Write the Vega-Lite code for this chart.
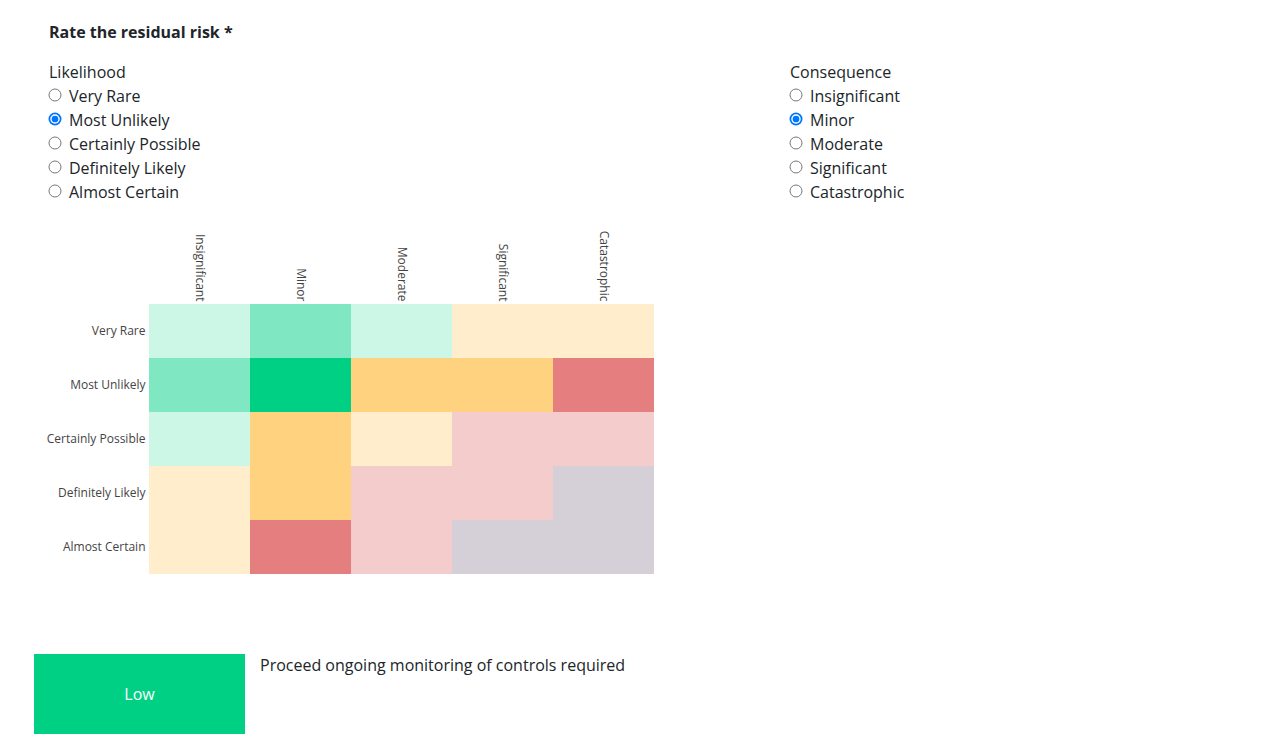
{
  "$schema": "https://vega.github.io/schema/vega-lite/v6.json",
  "padding": {"left": 34, "top": 25, "right": 10, "bottom": 0},
  "background": "white",
  "config": {
    "font": "Open Sans",
    "view": {"stroke": null},
    "axis": {"labelFont": "Open Sans", "labelFontSize": 12, "labelColor": "#444444", "ticks": false, "domain": false, "grid": false, "title": null}
  },
  "title": {"text": "Rate the residual risk *", "anchor": "start", "fontSize": 16, "fontWeight": "bold", "color": "#212529", "dx": 15, "offset": 18, "frame": "bounds"},
  "datasets": {
    "options": [
      {"group": "Likelihood", "line": 0, "kind": "header", "label": "Likelihood", "checked": false},
      {"group": "Likelihood", "line": 1, "kind": "option", "label": "Very Rare", "checked": false},
      {"group": "Likelihood", "line": 2, "kind": "option", "label": "Most Unlikely", "checked": true},
      {"group": "Likelihood", "line": 3, "kind": "option", "label": "Certainly Possible", "checked": false},
      {"group": "Likelihood", "line": 4, "kind": "option", "label": "Definitely Likely", "checked": false},
      {"group": "Likelihood", "line": 5, "kind": "option", "label": "Almost Certain", "checked": false},
      {"group": "Consequence", "line": 0, "kind": "header", "label": "Consequence", "checked": false},
      {"group": "Consequence", "line": 1, "kind": "option", "label": "Insignificant", "checked": false},
      {"group": "Consequence", "line": 2, "kind": "option", "label": "Minor", "checked": true},
      {"group": "Consequence", "line": 3, "kind": "option", "label": "Moderate", "checked": false},
      {"group": "Consequence", "line": 4, "kind": "option", "label": "Significant", "checked": false},
      {"group": "Consequence", "line": 5, "kind": "option", "label": "Catastrophic", "checked": false}
    ],
    "matrix": [
      {"likelihood": "Very Rare", "consequence": "Insignificant", "risk": "Low", "emphasis": "other"},
      {"likelihood": "Very Rare", "consequence": "Minor", "risk": "Low", "emphasis": "related"},
      {"likelihood": "Very Rare", "consequence": "Moderate", "risk": "Low", "emphasis": "other"},
      {"likelihood": "Very Rare", "consequence": "Significant", "risk": "Medium", "emphasis": "other"},
      {"likelihood": "Very Rare", "consequence": "Catastrophic", "risk": "Medium", "emphasis": "other"},
      {"likelihood": "Most Unlikely", "consequence": "Insignificant", "risk": "Low", "emphasis": "related"},
      {"likelihood": "Most Unlikely", "consequence": "Minor", "risk": "Low", "emphasis": "selected"},
      {"likelihood": "Most Unlikely", "consequence": "Moderate", "risk": "Medium", "emphasis": "related"},
      {"likelihood": "Most Unlikely", "consequence": "Significant", "risk": "Medium", "emphasis": "related"},
      {"likelihood": "Most Unlikely", "consequence": "Catastrophic", "risk": "High", "emphasis": "related"},
      {"likelihood": "Certainly Possible", "consequence": "Insignificant", "risk": "Low", "emphasis": "other"},
      {"likelihood": "Certainly Possible", "consequence": "Minor", "risk": "Medium", "emphasis": "related"},
      {"likelihood": "Certainly Possible", "consequence": "Moderate", "risk": "Medium", "emphasis": "other"},
      {"likelihood": "Certainly Possible", "consequence": "Significant", "risk": "High", "emphasis": "other"},
      {"likelihood": "Certainly Possible", "consequence": "Catastrophic", "risk": "High", "emphasis": "other"},
      {"likelihood": "Definitely Likely", "consequence": "Insignificant", "risk": "Medium", "emphasis": "other"},
      {"likelihood": "Definitely Likely", "consequence": "Minor", "risk": "Medium", "emphasis": "related"},
      {"likelihood": "Definitely Likely", "consequence": "Moderate", "risk": "High", "emphasis": "other"},
      {"likelihood": "Definitely Likely", "consequence": "Significant", "risk": "High", "emphasis": "other"},
      {"likelihood": "Definitely Likely", "consequence": "Catastrophic", "risk": "Extreme", "emphasis": "other"},
      {"likelihood": "Almost Certain", "consequence": "Insignificant", "risk": "Medium", "emphasis": "other"},
      {"likelihood": "Almost Certain", "consequence": "Minor", "risk": "High", "emphasis": "related"},
      {"likelihood": "Almost Certain", "consequence": "Moderate", "risk": "High", "emphasis": "other"},
      {"likelihood": "Almost Certain", "consequence": "Significant", "risk": "Extreme", "emphasis": "other"},
      {"likelihood": "Almost Certain", "consequence": "Catastrophic", "risk": "Extreme", "emphasis": "other"}
    ],
    "outcome": [
      {"part": "level", "text": "Low", "risk": "Low"},
      {"part": "note", "text": "Proceed ongoing monitoring of controls required", "risk": "Low"}
    ]
  },
  "spacing": 80,
  "bounds": "flush",
  "vconcat": [
    {
      "data": {"name": "options"},
      "width": 783,
      "height": 165,
      "encoding": {
        "x": {"field": "group", "type": "nominal", "scale": {"type": "point", "domain": ["Likelihood", "Consequence"], "padding": 0.02834}, "axis": null},
        "y": {"field": "line", "type": "ordinal", "scale": {"type": "band", "paddingInner": 0, "paddingOuter": 0.4375, "align": 0}, "axis": null}
      },
      "layer": [
        {
          "transform": [{"filter": "datum.kind === 'header'"}],
          "mark": {"type": "text", "align": "left", "baseline": "middle", "dx": -6, "dy": 2, "fontSize": 16, "color": "#212529"},
          "encoding": {"text": {"field": "label"}}
        },
        {
          "transform": [{"filter": "datum.kind === 'option'"}],
          "mark": {"type": "text", "align": "left", "baseline": "middle", "dx": 14, "dy": 2, "fontSize": 16, "color": "#212529"},
          "encoding": {"text": {"field": "label"}}
        },
        {
          "transform": [{"filter": "datum.kind === 'option' && !datum.checked"}],
          "mark": {"type": "point", "shape": "circle", "filled": true, "fill": "white", "stroke": "#767676", "strokeWidth": 1, "size": 144, "opacity": 1}
        },
        {
          "transform": [{"filter": "datum.checked"}],
          "mark": {"type": "point", "shape": "circle", "filled": true, "fill": "#0075FF", "size": 169, "opacity": 1}
        },
        {
          "transform": [{"filter": "datum.checked"}],
          "mark": {"type": "point", "shape": "circle", "filled": true, "fill": "white", "size": 90, "opacity": 1}
        },
        {
          "transform": [{"filter": "datum.checked"}],
          "mark": {"type": "point", "shape": "circle", "filled": true, "fill": "#0075FF", "size": 45, "opacity": 1}
        }
      ]
    },
    {
      "data": {"name": "matrix"},
      "width": 620,
      "height": 270,
      "mark": {"type": "rect", "strokeWidth": 0},
      "encoding": {
        "x": {
          "field": "consequence", "type": "nominal",
          "scale": {"type": "band", "domain": ["Insignificant", "Minor", "Moderate", "Significant", "Catastrophic"], "paddingInner": 0, "paddingOuter": 0.569307, "align": 1},
          "axis": {"orient": "top", "labelAngle": 90, "labelAlign": "right", "labelBaseline": "middle", "labelPadding": 3}
        },
        "y": {
          "field": "likelihood", "type": "nominal",
          "scale": {"type": "band", "domain": ["Very Rare", "Most Unlikely", "Certainly Possible", "Definitely Likely", "Almost Certain"], "paddingInner": 0, "paddingOuter": 0},
          "axis": {"orient": "left", "offset": -115, "labelPadding": 4, "labelAlign": "right"}
        },
        "color": {"field": "risk", "type": "nominal", "scale": {"domain": ["Low", "Medium", "High", "Extreme"], "range": ["#00D084", "#FFA500", "#CC0000", "#2D0F37"]}, "legend": null},
        "opacity": {"field": "emphasis", "type": "nominal", "scale": {"type": "ordinal", "domain": ["selected", "related", "other"], "range": [1, 0.5, 0.2]}, "legend": null}
      }
    },
    {
      "data": {"name": "outcome"},
      "width": 422,
      "height": 80,
      "encoding": {
        "x": {"field": "part", "type": "nominal", "scale": {"type": "band", "domain": ["level", "note"], "paddingInner": 0, "paddingOuter": 0}, "axis": null}
      },
      "layer": [
        {
          "transform": [{"filter": "datum.part === 'level'"}],
          "mark": {"type": "rect", "strokeWidth": 0},
          "encoding": {"color": {"field": "risk", "type": "nominal", "scale": {"domain": ["Low", "Medium", "High", "Extreme"], "range": ["#00D084", "#FFA500", "#CC0000", "#2D0F37"]}, "legend": null}}
        },
        {
          "transform": [{"filter": "datum.part === 'level'"}],
          "mark": {"type": "text", "color": "white", "fontSize": 16, "baseline": "middle", "dy": 1},
          "encoding": {"text": {"field": "text"}}
        },
        {
          "transform": [{"filter": "datum.part === 'note'"}],
          "mark": {"type": "text", "align": "left", "baseline": "middle", "dx": 15, "dy": -28, "fontSize": 16, "color": "#212529"},
          "encoding": {"x": {"field": "part", "type": "nominal", "bandPosition": 0}, "text": {"field": "text"}}
        }
      ]
    }
  ]
}
